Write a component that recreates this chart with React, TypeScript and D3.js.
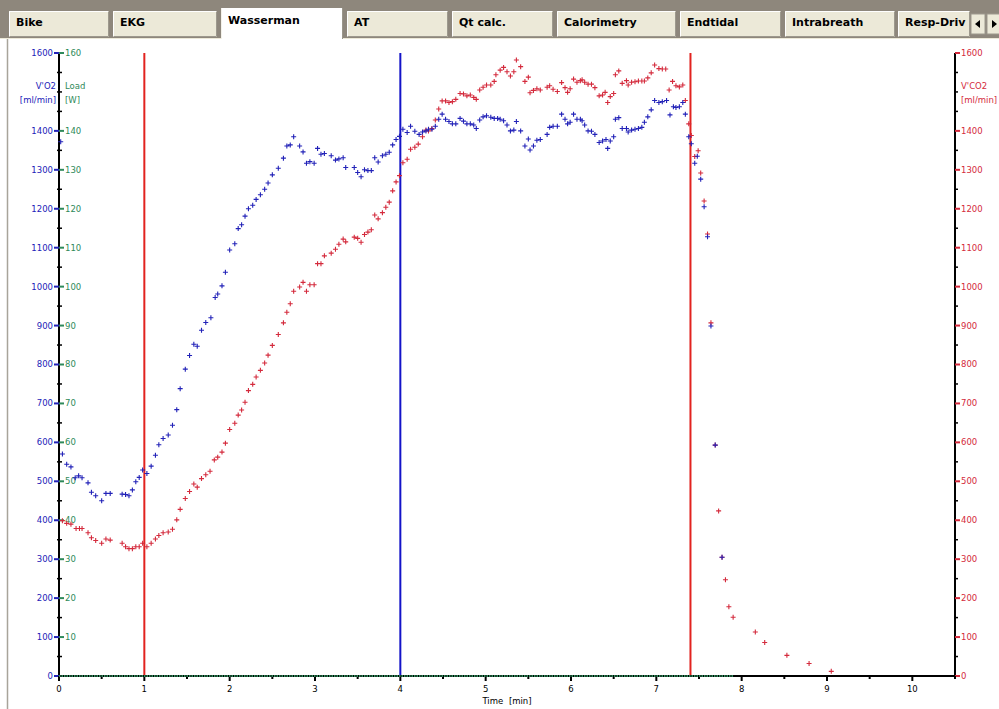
import React from 'react';
import * as d3 from 'd3';

// ---- Tab strip ----
const tabNames = ['Bike', 'EKG', 'Wasserman', 'AT', 'Qt calc.', 'Calorimetry', 'Endtidal', 'Intrabreath', 'Resp-Driv'];
const activeTab = 'Wasserman';
const tabLeftEdges = [9, 113, 221, 347, 452, 557, 680, 785, 898];
const tabRightEdges = [109, 217, 343, 448, 553, 676, 781, 895, 970];

// ---- Axes ----
const timeTicks = [0, 1, 2, 3, 4, 5, 6, 7, 8, 9, 10];
const timeMinorTicks = [0.5, 1.5, 2.5, 3.5, 4.5, 5.5, 6.5, 7.5, 8.5, 9.5, 10.5];
const flowTicks = [0, 100, 200, 300, 400, 500, 600, 700, 800, 900, 1000, 1100, 1200, 1300, 1400, 1600];
const flowMinorTicks = [50, 150, 250, 350, 450, 550, 650, 750, 850, 950, 1050, 1150, 1250, 1350, 1450, 1500, 1550];
const loadTicks = [10, 20, 30, 40, 50, 60, 70, 80, 90, 100, 110, 120, 130, 140, 160];

// ---- Event markers [min] ----
const phaseMarkers = [1, 7.4]; // start / end of exercise
const thresholdMarker = 4; // anaerobic threshold

// ---- Load [W] ----
const loadSeries: [number, number][] = [[0, 0], [7.9, 0]];

// ---- V'O2 [ml/min], breath by breath: [time min, value] ----
const vo2Series: [number, number][] = [
  [0.02, 1372], [0.04, 570], [0.09, 544], [0.14, 537], [0.19, 509], [0.23, 514], [0.27, 509], [0.34, 496],
  [0.38, 472], [0.43, 463], [0.50, 450], [0.55, 469], [0.60, 469], [0.74, 467], [0.78, 466], [0.82, 463],
  [0.86, 478], [0.90, 499], [0.94, 510], [0.98, 529], [1.03, 520], [1.08, 539], [1.13, 567], [1.17, 594],
  [1.22, 610], [1.28, 619], [1.33, 644], [1.38, 684], [1.42, 738], [1.48, 788], [1.53, 823], [1.58, 852],
  [1.62, 847], [1.67, 888], [1.72, 908], [1.78, 920], [1.83, 972], [1.86, 981], [1.91, 1002], [1.95, 1037],
  [2.00, 1094], [2.06, 1110], [2.10, 1149], [2.14, 1159], [2.18, 1181], [2.22, 1200], [2.27, 1209], [2.31, 1224],
  [2.36, 1236], [2.41, 1250], [2.45, 1266], [2.50, 1287], [2.57, 1304], [2.63, 1330], [2.67, 1361], [2.71, 1364],
  [2.75, 1385], [2.82, 1361], [2.86, 1346], [2.90, 1317], [2.94, 1321], [2.99, 1317], [3.03, 1355], [3.07, 1340],
  [3.11, 1342], [3.19, 1336], [3.24, 1325], [3.28, 1328], [3.33, 1331], [3.36, 1306], [3.46, 1306], [3.50, 1293],
  [3.54, 1282], [3.58, 1300], [3.62, 1298], [3.66, 1298], [3.70, 1331], [3.74, 1320], [3.79, 1336], [3.83, 1340],
  [3.87, 1345], [3.91, 1364], [3.95, 1378], [3.99, 1386], [4.03, 1404], [4.08, 1396], [4.12, 1412], [4.17, 1399],
  [4.22, 1391], [4.26, 1397], [4.30, 1400], [4.33, 1404], [4.37, 1404], [4.41, 1412], [4.45, 1430], [4.49, 1443],
  [4.53, 1430], [4.57, 1424], [4.61, 1418], [4.65, 1418], [4.70, 1432], [4.74, 1425], [4.78, 1418], [4.82, 1418],
  [4.86, 1415], [4.89, 1406], [4.93, 1428], [4.97, 1436], [5.01, 1439], [5.06, 1435], [5.10, 1432], [5.14, 1432],
  [5.17, 1430], [5.21, 1426], [5.25, 1415], [5.29, 1400], [5.33, 1402], [5.36, 1424], [5.41, 1400], [5.46, 1361],
  [5.50, 1379], [5.52, 1351], [5.56, 1361], [5.60, 1376], [5.64, 1378], [5.72, 1391], [5.75, 1409], [5.79, 1412],
  [5.84, 1412], [5.89, 1443], [5.93, 1430], [5.96, 1418], [5.99, 1422], [6.03, 1443], [6.07, 1430], [6.11, 1430],
  [6.13, 1426], [6.16, 1415], [6.20, 1400], [6.24, 1399], [6.28, 1391], [6.33, 1370], [6.37, 1374], [6.41, 1378],
  [6.43, 1355], [6.46, 1374], [6.50, 1385], [6.52, 1430], [6.56, 1434], [6.60, 1406], [6.65, 1406], [6.67, 1397],
  [6.71, 1402], [6.75, 1404], [6.79, 1406], [6.83, 1409], [6.86, 1422], [6.90, 1436], [6.94, 1454], [6.98, 1478],
  [7.03, 1473], [7.07, 1475], [7.12, 1478], [7.16, 1441], [7.20, 1462], [7.23, 1460], [7.27, 1462], [7.31, 1473],
  [7.34, 1443], [7.38, 1385], [7.41, 1367], [7.45, 1317], [7.48, 1335], [7.52, 1276], [7.56, 1205], [7.60, 1128],
  [7.64, 899], [7.69, 593], [7.77, 305],
];

// ---- V'CO2 [ml/min], breath by breath: [time min, value] ----
const vco2Series: [number, number][] = [
  [0.04, 399], [0.09, 392], [0.14, 390], [0.20, 379], [0.24, 379], [0.27, 379], [0.34, 368], [0.38, 355],
  [0.43, 348], [0.50, 341], [0.55, 352], [0.60, 349], [0.74, 341], [0.78, 332], [0.82, 327], [0.86, 327],
  [0.90, 332], [0.94, 332], [0.98, 341], [1.03, 332], [1.08, 341], [1.13, 352], [1.17, 361], [1.22, 368],
  [1.28, 370], [1.33, 377], [1.38, 401], [1.42, 428], [1.48, 456], [1.53, 474], [1.58, 493], [1.62, 485],
  [1.67, 507], [1.72, 517], [1.77, 526], [1.82, 555], [1.86, 562], [1.91, 575], [1.95, 598], [2.00, 633],
  [2.06, 649], [2.10, 670], [2.14, 683], [2.18, 703], [2.22, 733], [2.27, 749], [2.31, 768], [2.36, 785],
  [2.41, 804], [2.45, 824], [2.50, 849], [2.57, 877], [2.63, 907], [2.67, 934], [2.71, 956], [2.75, 988],
  [2.82, 999], [2.86, 1011], [2.90, 988], [2.94, 1005], [2.99, 1005], [3.03, 1059], [3.07, 1059], [3.11, 1079],
  [3.19, 1086], [3.24, 1096], [3.28, 1109], [3.33, 1122], [3.36, 1115], [3.46, 1127], [3.50, 1124], [3.54, 1114],
  [3.58, 1134], [3.62, 1140], [3.66, 1146], [3.70, 1184], [3.74, 1174], [3.79, 1190], [3.83, 1204], [3.87, 1217],
  [3.91, 1246], [3.95, 1269], [3.99, 1285], [4.03, 1318], [4.08, 1327], [4.12, 1353], [4.17, 1358], [4.21, 1366],
  [4.26, 1385], [4.30, 1402], [4.33, 1400], [4.37, 1406], [4.41, 1428], [4.45, 1456], [4.49, 1477], [4.53, 1477],
  [4.57, 1473], [4.61, 1475], [4.65, 1481], [4.70, 1496], [4.74, 1495], [4.78, 1490], [4.82, 1492], [4.86, 1486],
  [4.89, 1481], [4.93, 1505], [4.97, 1512], [5.01, 1518], [5.06, 1518], [5.10, 1527], [5.12, 1544], [5.17, 1556],
  [5.21, 1563], [5.25, 1552], [5.29, 1541], [5.33, 1552], [5.36, 1582], [5.41, 1565], [5.46, 1527], [5.50, 1538],
  [5.52, 1498], [5.56, 1504], [5.60, 1508], [5.64, 1505], [5.72, 1512], [5.75, 1516], [5.79, 1507], [5.84, 1501],
  [5.89, 1524], [5.93, 1511], [5.96, 1499], [5.99, 1508], [6.03, 1533], [6.07, 1525], [6.11, 1529], [6.13, 1531],
  [6.16, 1525], [6.20, 1520], [6.24, 1520], [6.28, 1511], [6.33, 1490], [6.37, 1492], [6.40, 1499], [6.43, 1473],
  [6.46, 1488], [6.50, 1496], [6.52, 1544], [6.56, 1554], [6.60, 1522], [6.65, 1529], [6.67, 1518], [6.71, 1525],
  [6.75, 1526], [6.79, 1528], [6.83, 1528], [6.86, 1528], [6.90, 1536], [6.94, 1549], [6.98, 1569], [7.03, 1560],
  [7.07, 1559], [7.11, 1559], [7.15, 1505], [7.19, 1527], [7.23, 1516], [7.27, 1513], [7.31, 1518], [7.34, 1478],
  [7.38, 1418], [7.41, 1388], [7.45, 1334], [7.49, 1349], [7.52, 1292], [7.56, 1220], [7.60, 1135], [7.64, 907],
  [7.69, 593], [7.73, 424], [7.77, 305], [7.81, 247], [7.85, 178], [7.90, 151], [8.16, 113], [8.27, 86],
  [8.53, 53], [8.79, 32], [9.05, 12],
];

const W = 999;
const H = 709;
const FONT = '"DejaVu Sans", Verdana, sans-serif';

const C_VO2 = '#2222b8';
const C_VCO2 = '#d42a3c';
const C_LOAD = '#2f8a5a';
const C_MARK = '#e2231f';
const C_AT = '#1414c8';

export default function App() {
  const x = d3.scaleLinear().domain([0, 10.5]).range([59, 955]);
  const y = d3.scaleLinear().domain([0, 1600]).range([676, 53]);
  const yLoad = d3.scaleLinear().domain([0, 160]).range([676, 53]);

  const xL = x(0);
  const xR = x(10.5);
  const yB = y(0);
  const yT = y(1600);

  const crosses = (data: [number, number][]) =>
    data.map(([t, v]) => {
      const cx = x(t);
      const cy = y(v);
      return `M${cx - 2.5},${cy}h5M${cx},${cy - 2.5}v5`;
    }).join('');

  const loadLine = d3.line<[number, number]>().x((d) => x(d[0])).y((d) => yLoad(d[1]))(loadSeries) || '';

  return (
    <svg width={W} height={H} style={{ position: 'absolute', left: 0, top: 0, display: 'block' }} fontFamily={FONT}>
      <rect x={0} y={0} width={W} height={H} fill="#ffffff" />

      {/* tab strip */}
      <rect x={0} y={0} width={W} height={38} fill="#8e877c" />
      <line x1={0} x2={W} y1={38.5} y2={38.5} stroke="#ece9d8" />
      {tabNames.map((name, i) => {
        const l = tabLeftEdges[i];
        const r = tabRightEdges[i];
        const active = name === activeTab;
        if (active) {
          return (
            <g key={name}>
              <rect x={l} y={8} width={r - l} height={32} fill="#ffffff" />
              <line x1={l + 0.5} x2={l + 0.5} y1={8} y2={39} stroke="#f4f2ea" />
              <line x1={r - 0.5} x2={r - 0.5} y1={8} y2={39} stroke="#9a968b" />
              <text x={l + 7} y={24} fontSize={11} fontWeight="bold" fill="#000">{name}</text>
            </g>
          );
        }
        return (
          <g key={name}>
            <rect x={l} y={11} width={r - l} height={26} fill="#ece9d8" />
            <path d={`M${l + 0.5},36.5V11.5H${r - 0.5}`} fill="none" stroke="#ffffff" />
            <path d={`M${r - 0.5},11.5V36.5H${l + 0.5}`} fill="none" stroke="#9d998d" />
            <text x={l + 7} y={26} fontSize={11} fontWeight="bold" fill="#000">{name}</text>
          </g>
        );
      })}
      {/* scroll buttons */}
      <g>
        <rect x={971} y={14} width={14} height={20} fill="#ece9d8" stroke="#9d998d" />
        <path d="M975,24 l5,-4 v8 z" fill="#000" />
        <rect x={987} y={14} width={14} height={20} fill="#ece9d8" stroke="#9d998d" />
        <path d="M992,20 l5,4 l-5,4 z" fill="#000" />
      </g>

      {/* panel border */}
      <line x1={7.5} x2={7.5} y1={39} y2={H} stroke="#a8a49a" strokeWidth={1.5} />

      {/* event markers */}
      {phaseMarkers.map((t) => (
        <line key={t} x1={x(t)} x2={x(t)} y1={yT} y2={yB} stroke={C_MARK} strokeWidth={2} />
      ))}
      <line x1={x(thresholdMarker)} x2={x(thresholdMarker)} y1={yT} y2={yB} stroke={C_AT} strokeWidth={2} />

      {/* left axis */}
      <line x1={xL} x2={xL} y1={yT} y2={yB + 1} stroke="#000" strokeWidth={2} />
      {flowMinorTicks.map((v) => (
        <line key={'lm' + v} x1={xL - 2} x2={xL + 3} y1={y(v)} y2={y(v)} stroke="#000" strokeWidth={1.5} />
      ))}
      {flowTicks.map((v) => (
        <g key={'lt' + v}>
          <line x1={xL - 5} x2={xL} y1={y(v)} y2={y(v)} stroke={C_VO2} strokeWidth={2} />
          <text x={53} y={y(v)} dy="0.35em" textAnchor="end" fontSize={8.5} fill={C_VO2}>{v}</text>
        </g>
      ))}
      {loadTicks.map((w) => (
        <g key={'ld' + w}>
          <line x1={xL} x2={xL + 5} y1={yLoad(w)} y2={yLoad(w)} stroke={C_LOAD} strokeWidth={2} />
          <text x={65} y={yLoad(w)} dy="0.35em" fontSize={8.5} fill={C_LOAD}>{w}</text>
        </g>
      ))}
      <text x={56} y={89} textAnchor="end" fontSize={8.5} fill={C_VO2}>V'O2</text>
      <text x={56} y={103} textAnchor="end" fontSize={8.5} fill={C_VO2}>[ml/min]</text>
      <text x={65} y={89} fontSize={8.5} fill={C_LOAD}>Load</text>
      <text x={65} y={103} fontSize={8.5} fill={C_LOAD}>[W]</text>

      {/* right axis */}
      <line x1={xR} x2={xR} y1={yT} y2={yB + 1} stroke="#000" strokeWidth={2} />
      {flowMinorTicks.map((v) => (
        <line key={'rm' + v} x1={xR} x2={xR + 3} y1={y(v)} y2={y(v)} stroke="#000" strokeWidth={1.5} />
      ))}
      {flowTicks.map((v) => (
        <g key={'rt' + v}>
          <line x1={xR} x2={xR + 5} y1={y(v)} y2={y(v)} stroke={C_VCO2} strokeWidth={2} />
          <text x={961} y={y(v)} dy="0.35em" fontSize={8.5} fill={C_VCO2}>{v}</text>
        </g>
      ))}
      <text x={961} y={89} fontSize={8.5} fill={C_VCO2}>V'CO2</text>
      <text x={961} y={103} fontSize={8.5} fill={C_VCO2}>[ml/min]</text>

      {/* time axis */}
      <line x1={xL} x2={xR} y1={yB} y2={yB} stroke="#000" strokeWidth={2} />
      {timeMinorTicks.map((t) => (
        <line key={'tm' + t} x1={x(t)} x2={x(t)} y1={yB} y2={yB + 3} stroke="#000" strokeWidth={2} />
      ))}
      {timeTicks.map((t) => (
        <g key={'tt' + t}>
          <line x1={x(t)} x2={x(t)} y1={yB} y2={yB + 5} stroke="#000" strokeWidth={2} />
          <text x={x(t)} y={692} textAnchor="middle" fontSize={8.5} fill="#000">{t}</text>
        </g>
      ))}
      <text x={(xL + xR) / 2} y={704} textAnchor="middle" fontSize={8.5} fill="#000" wordSpacing={3}>Time [min]</text>

      {/* load trace */}
      <path d={loadLine} fill="none" stroke={C_LOAD} strokeWidth={2} strokeDasharray="1.5 1" />

      {/* breath-by-breath gas exchange */}
      <path d={crosses(vco2Series)} fill="none" stroke={C_VCO2} strokeWidth={1.1} />
      <path d={crosses(vo2Series)} fill="none" stroke={C_VO2} strokeWidth={1.1} />
    </svg>
  );
}
